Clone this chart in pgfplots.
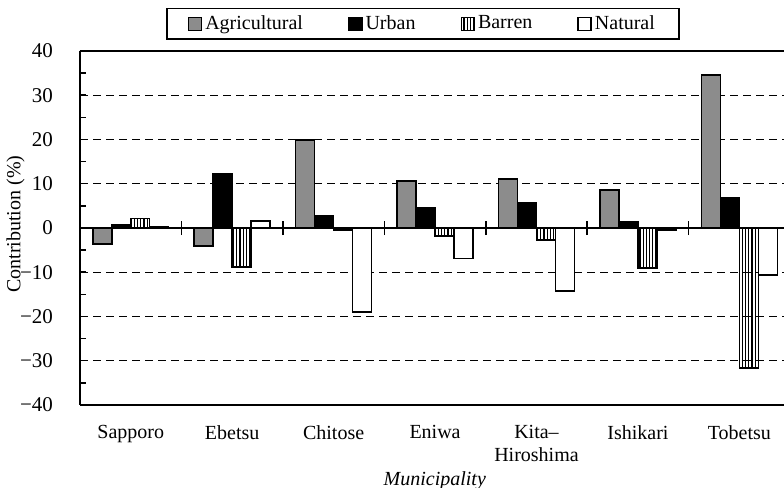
\documentclass[border=0pt]{standalone}
\usepackage{pgfplots}
\pgfplotsset{compat=1.18}
\usepackage{pgfplotstable}
\usepackage{fontspec}
\setmainfont{Liberation Serif}
\usetikzlibrary{patterns.meta,calc}

% contribution (%) by land use, one row per municipality
\pgfplotstableread{
idx agri urban barren natural
0 -3.6 0.8 2.2 0.3
1 -4.1 12.2 -8.8 1.6
2 19.9 2.7 -0.5 -19.0
3 10.6 4.5 -1.8 -6.9
4 11.1 5.8 -2.7 -14.2
5 8.6 1.3 -9.0 -0.4
6 34.6 6.8 -31.6 -10.6
}\contrib

\begin{document}
\begin{tikzpicture}
\begin{axis}[
    name=ax,
    scale only axis,
    width=352pt, height=177pt,
    xmin=-0.5, xmax=6.44,
    ymin=-40, ymax=40,
    axis x line=box,
    axis y line=left,
    axis line style={-, line width=1pt},
    ybar=0pt,
    bar width=0.187,
    xtick={0,...,6},
    xticklabels={Sapporo, Ebetsu, Chitose, Eniwa, {Kita–\\Hiroshima}, Ishikari, Tobetsu},
    xtick style={draw=none},
    xticklabel pos=lower,
    xticklabel style={align=center, yshift=-6.7pt,
        font=\fontsize{10}{11.5}\selectfont},
    ytick={-40,-30,...,40},
    yticklabels={−40,−30,−20,−10,0,10,20,30,40},
    minor ytick={-35,-25,...,35},
    ytick pos=left,
    tick align=inside,
    major tick length=3pt,
    minor tick length=3pt,
    tick style={black, line width=0.75pt},
    yticklabel style={xshift=-10pt, font=\fontsize{10.5}{12}\selectfont},
    ymajorgrids,
    major grid style={black, line width=0.5pt, dash pattern=on 4pt off 2.5pt},
    extra y ticks={0},
    extra y tick labels={},
    extra y tick style={ymajorgrids=true,
        major grid style={solid, black, line width=1.1pt},
        major tick length=0pt},
    xlabel={\textit{Municipality}},
    xlabel style={at={(axis description cs:0.504,0)}, anchor=north, yshift=-30pt},
    ylabel={Contribution (\%)},
    ylabel style={at={(axis description cs:-0.0916,0.511)}, anchor=center},
    legend columns=4,
    legend cell align=left,
    legend image code/.code={\draw[#1] (0pt,-3.25pt) rectangle (6.5pt,3.25pt);},
    legend style={at={(axis description cs:0.487,1)}, anchor=south, yshift=5.5pt,
        draw=black, line width=0.75pt, inner xsep=10.5pt, inner ysep=1.5pt,
        nodes={inner xsep=1.5pt},
        /tikz/every even column/.append style={column sep=21pt}},
]
\addplot[fill=black!45, draw=black, line width=0.75pt] table[x=idx, y=agri] {\contrib};
\addplot[fill=black, draw=black, line width=0.75pt] table[x=idx, y=urban] {\contrib};
\addplot[pattern={Lines[angle=90, distance=1.6pt, line width=0.6pt]}, draw=black, line width=0.75pt] table[x=idx, y=barren] {\contrib};
\addplot[fill=white, draw=black, line width=0.75pt] table[x=idx, y=natural] {\contrib};
\legend{Agricultural, Urban, Barren, Natural}
% short marks on the zero line between municipalities
\pgfplotsinvokeforeach{0.5,1.5,2.5,3.5,4.5,5.5}{
    \draw[line width=0.75pt] (axis cs:#1,-1.6) -- (axis cs:#1,1.6);
}
\end{axis}
\pgfresetboundingbox
\path[use as bounding box] ($(ax.south west)+(-40pt,-41.5pt)$) rectangle ($(ax.north east)+(0pt,25.5pt)$);
\end{tikzpicture}
\end{document}
